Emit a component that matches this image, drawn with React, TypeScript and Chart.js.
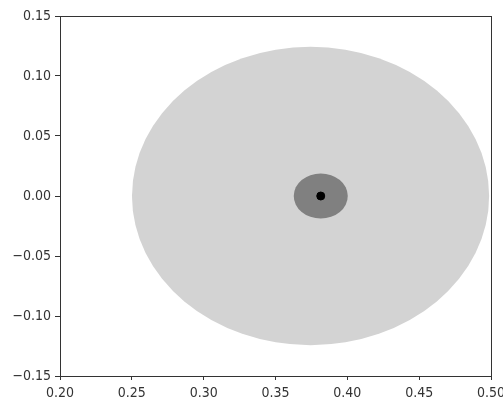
import React, { useEffect, useRef } from "react";
import { Chart, registerables } from "chart.js";

Chart.register(...registerables);

// Ellipses (circles in data units): centers and radii
const circleCentersX = [0.3744, 0.3815];
const circleCentersY = [0.0, 0.0];
const circleRadii = [0.1243, 0.0188];
const circleColors = ["#d3d3d3", "#808080"];

// Central point
const pointX = [0.3815];
const pointY = [0.0];

const xMin = 0.2, xMax = 0.5, xStep = 0.05;
const yMin = -0.15, yMax = 0.15, yStep = 0.05;

const fmt = (v: number) => {
  const s = Number(v).toFixed(2);
  return s.replace("-", "\u2212");
};

const tickFont = { family: "'DejaVu Sans Condensed', sans-serif", size: 14 };

const circlesPlugin = {
  id: "circles",
  beforeDatasetsDraw(chart: any) {
    const { ctx, chartArea, scales } = chart;
    const xs = scales.x, ys = scales.y;
    ctx.save();
    ctx.beginPath();
    ctx.rect(chartArea.left, chartArea.top, chartArea.right - chartArea.left, chartArea.bottom - chartArea.top);
    ctx.clip();
    for (let i = 0; i < circleRadii.length; i++) {
      const cx = xs.getPixelForValue(circleCentersX[i]);
      const cy = ys.getPixelForValue(circleCentersY[i]);
      const rx = Math.abs(xs.getPixelForValue(circleCentersX[i] + circleRadii[i]) - cx);
      const ry = Math.abs(ys.getPixelForValue(circleCentersY[i] + circleRadii[i]) - cy);
      ctx.beginPath();
      ctx.ellipse(cx, cy, rx, ry, 0, 0, Math.PI * 2);
      ctx.fillStyle = circleColors[i];
      ctx.fill();
    }
    ctx.restore();
  },
  afterDraw(chart: any) {
    const { ctx, chartArea } = chart;
    ctx.save();
    ctx.strokeStyle = "#333";
    ctx.lineWidth = 1;
    ctx.strokeRect(
      Math.round(chartArea.left) + 0.5,
      Math.round(chartArea.top) + 0.5,
      Math.round(chartArea.right - chartArea.left),
      Math.round(chartArea.bottom - chartArea.top)
    );
    ctx.restore();
  },
};

export default function App() {
  const ref = useRef<HTMLCanvasElement | null>(null);
  useEffect(() => {
    document.body.style.margin = "0";
    const canvas = ref.current!;
    const chart = new Chart(canvas, {
      type: "scatter",
      data: {
        datasets: [
          {
            data: pointX.map((x, i) => ({ x, y: pointY[i] })),
            backgroundColor: "#000",
            borderColor: "#000",
            pointRadius: 4,
            pointHoverRadius: 4,
          },
        ],
      },
      options: {
        animation: false,
        responsive: false,
        maintainAspectRatio: false,
        layout: { padding: { top: 16, right: 12, left: 0, bottom: 0 } },
        plugins: { legend: { display: false }, tooltip: { enabled: false } },
        scales: {
          x: {
            type: "linear",
            min: xMin,
            max: xMax,
            afterFit: (s: any) => { s.height = 31; s.paddingLeft = 0; s.paddingRight = 0; },
            afterBuildTicks: (s: any) => {
              const t = [];
              for (let i = 0; i <= Math.round((xMax - xMin) / xStep); i++) t.push({ value: +(xMin + i * xStep).toFixed(2) });
              s.ticks = t;
            },
            grid: { display: true, drawOnChartArea: false, drawTicks: true, tickLength: 4, color: "#333", tickColor: "#333" },
            border: { display: false },
            ticks: {
              callback: (v: any) => fmt(v),
              color: "#333",
              padding: 5,
              maxRotation: 0,
              autoSkip: false,
              font: tickFont,
            },
          },
          y: {
            type: "linear",
            min: yMin,
            max: yMax,
            afterFit: (s: any) => { s.width = 60; s.paddingTop = 0; s.paddingBottom = 0; },
            afterBuildTicks: (s: any) => {
              const t = [];
              for (let i = 0; i <= Math.round((yMax - yMin) / yStep); i++) t.push({ value: +(yMin + i * yStep).toFixed(2) });
              s.ticks = t;
            },
            grid: { display: true, drawOnChartArea: false, drawTicks: true, tickLength: 5, color: "#333", tickColor: "#333" },
            border: { display: false },
            ticks: {
              callback: (v: any) => fmt(v),
              color: "#333",
              padding: 4,
              autoSkip: false,
              font: tickFont,
            },
          },
        },
      },
      plugins: [circlesPlugin],
    } as any);
    return () => chart.destroy();
  }, []);
  return (
    <div style={{ width: 503, height: 407, background: "#fff" }}>
      <canvas ref={ref} width={503} height={407} style={{ display: "block" }} />
    </div>
  );
}
